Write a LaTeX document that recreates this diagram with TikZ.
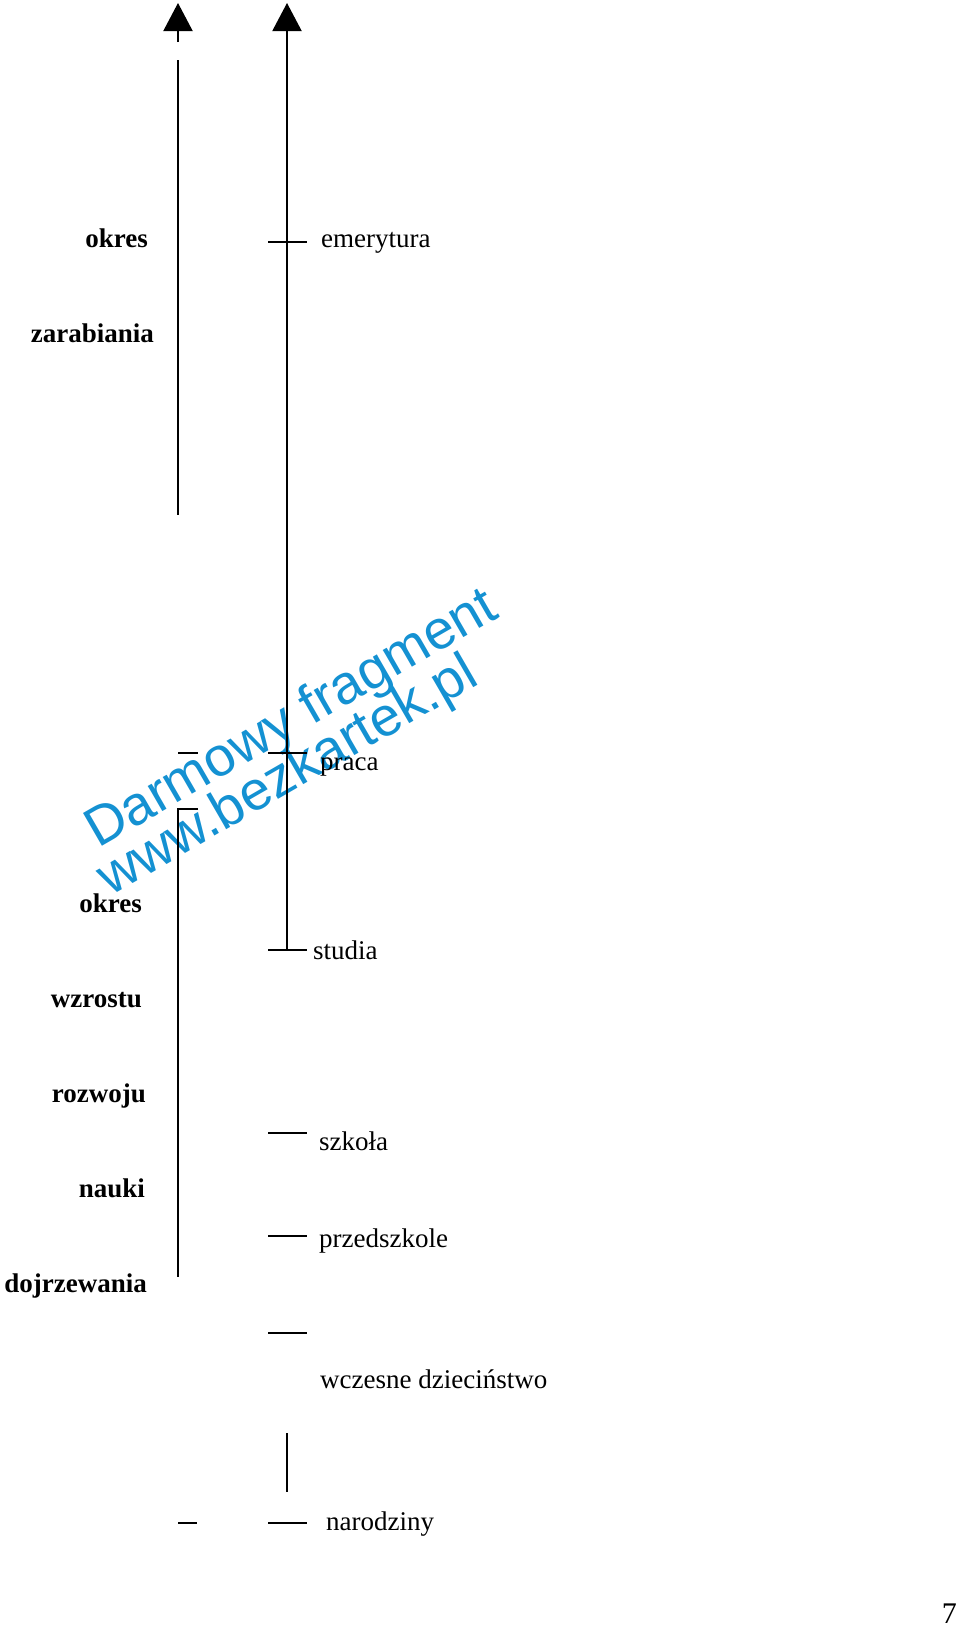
\documentclass[tikz,border=0pt]{standalone}
\usepackage{fontspec}
\setmainfont{Liberation Serif}
\newfontfamily\wmfont{Liberation Sans}
\usetikzlibrary{arrows.meta}
\definecolor{wmblue}{RGB}{20,145,210}
\begin{document}
\begin{tikzpicture}[x=1pt,y=-1pt,
  axis/.style={line width=2pt,black},
  tick/.style={line width=2pt,black},
  bigarrow/.style={line width=2pt,-{Triangle[width=29pt,length=28pt]}},
  lab/.style={inner sep=0pt,font=\fontsize{27}{32}\selectfont},
  boldlab/.style={lab,font=\fontsize{27}{32}\selectfont\bfseries,anchor=base east},
  rlab/.style={lab,anchor=base west},
  wm/.style={inner sep=0pt,anchor=base west,rotate=30,text=wmblue,font=\wmfont\fontsize{55}{60}\selectfont}]
\useasboundingbox (0,0) rectangle (960,1625);

% watermark
\node[wm] (wm1) at (98,849) {Darmowy fragment};
\node[wm] (wm2) at (110,897) {www.bezkartek.pl};

% coordinates
\coordinate (LA0) at (178,42);
\coordinate (LAtip) at (178,3);
\coordinate (LB0) at (178,60);
\coordinate (LB1) at (178,515);
\coordinate (RA0) at (287,950);
\coordinate (RAtip) at (287,3);

% arrows
\draw[bigarrow] (LA0) -- (LAtip);
\draw[axis] (LB0) -- (LB1);
\draw[bigarrow] (RA0) -- (RAtip);

% left bracket
\coordinate (LC0) at (198,809);
\coordinate (LC1) at (178,809);
\coordinate (LC2) at (178,1277);
\draw[axis] (LC0) -- (LC1) -- (LC2);

% ticks
\coordinate (t1a) at (268,242);  \coordinate (t1b) at (307,242);
\coordinate (t2a) at (178,753);  \coordinate (t2b) at (198,753);
\coordinate (t3a) at (268,753);  \coordinate (t3b) at (307,753);
\coordinate (t4a) at (268,950);  \coordinate (t4b) at (307,950);
\coordinate (t5a) at (268,1133); \coordinate (t5b) at (307,1133);
\coordinate (t6a) at (268,1236); \coordinate (t6b) at (307,1236);
\coordinate (t7a) at (268,1333); \coordinate (t7b) at (307,1333);
\coordinate (t8a) at (178,1523); \coordinate (t8b) at (197,1523);
\coordinate (t9a) at (268,1523); \coordinate (t9b) at (307,1523);
\coordinate (v1a) at (287,1433); \coordinate (v1b) at (287,1492);
\foreach \t in {t1,t2,t3,t4,t5,t6,t7,t8,t9}{\draw[tick] (\t a) -- (\t b);}
\draw[tick] (v1a) -- (v1b);

% left labels
\node[boldlab] (l1) at (148,247) {okres};
\node[boldlab] (l2) at (154,342) {zarabiania};
\node[boldlab] (l3) at (142,912) {okres};
\node[boldlab] (l4) at (142,1007) {wzrostu};
\node[boldlab] (l5) at (146,1102) {rozwoju};
\node[boldlab] (l6) at (145,1197) {nauki};
\node[boldlab] (l7) at (147,1292) {dojrzewania};

% right labels
\node[rlab] (r1) at (321,247) {emerytura};
\node[rlab] (r2) at (320,770) {praca};
\node[rlab] (r3) at (313,959) {studia};
\node[rlab] (r4) at (319,1150) {szkoła};
\node[rlab] (r5) at (319,1247) {przedszkole};
\node[rlab] (r6) at (320,1388) {wczesne dzieciństwo};
\node[rlab] (r7) at (326,1530) {narodziny};

% page number
\node[inner sep=0pt,anchor=base east,font=\fontsize{30}{34}\selectfont] (pg) at (957,1623) {7};
\end{tikzpicture}
\end{document}
